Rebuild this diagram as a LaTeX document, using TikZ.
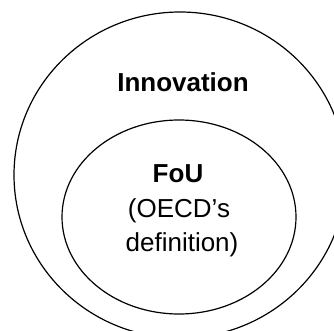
\documentclass[tikz,border=0pt]{standalone}
\usepackage{fontspec}
\setmainfont{Liberation Sans}
\usetikzlibrary{shapes.geometric}
\begin{document}
\begin{tikzpicture}[x=1pt,y=-1pt,
  ring/.style={draw=black,line width=1.2pt,ellipse,inner sep=0pt},
  lbl/.style={anchor=base,inner sep=0pt,font=\fontsize{26}{30}\selectfont},
  blbl/.style={lbl,font=\fontsize{26}{30}\selectfont\bfseries}]
\useasboundingbox (0,0) rectangle (334,331);
\clip (0,0) rectangle (334,331);
\node[ring,minimum width=332pt,minimum height=326pt] (outer) at (180,175) {};
\node[ring,minimum width=234pt,minimum height=194pt] (inner) at (179,217) {};
\node[blbl] (inno) at (183,92) {Innovation};
\node[blbl] (fou) at (178,182) {FoU};
\node[lbl] (oecd) at (179,217) {(OECD’s};
\node[lbl] (defn) at (182,251) {definition)};
\end{tikzpicture}
\end{document}
